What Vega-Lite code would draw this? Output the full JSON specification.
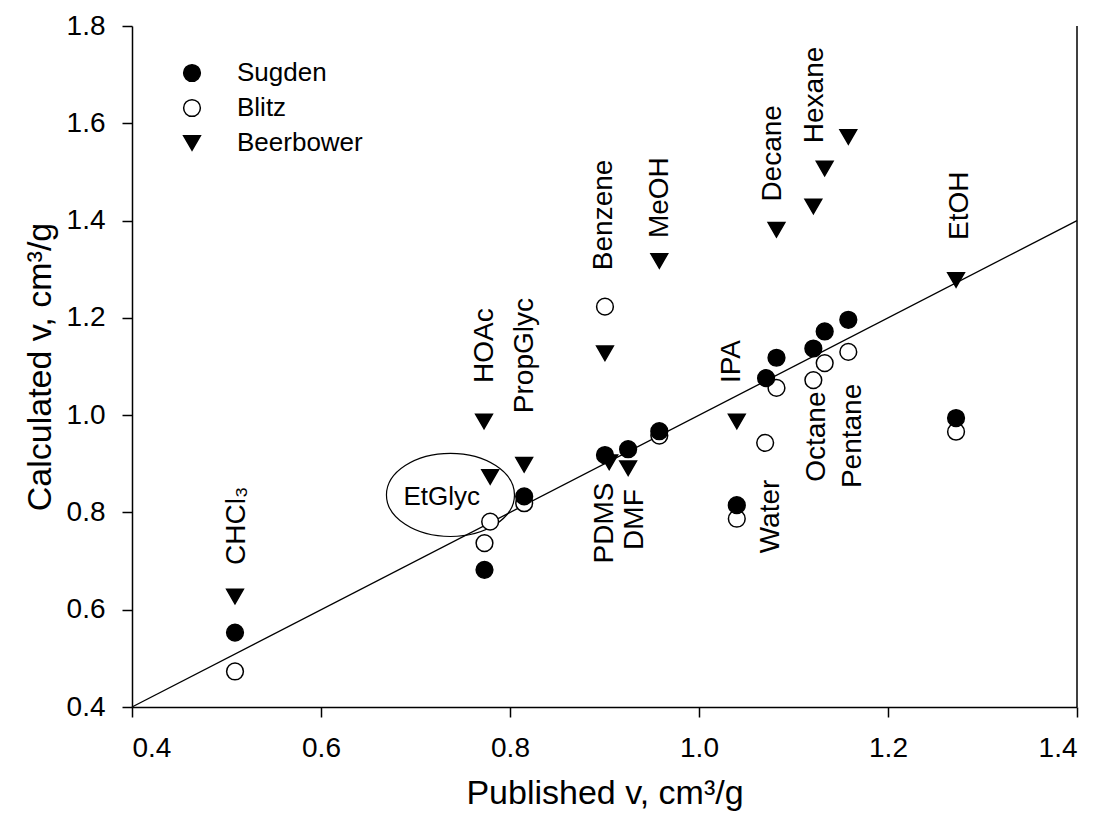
{
  "$schema": "https://vega.github.io/schema/vega-lite/v6.json",
  "width": 945,
  "height": 681,
  "autosize": "none",
  "padding": {"left": 132, "top": 26, "right": 21, "bottom": 114},
  "background": "white",
  "config": {
    "font": "Liberation Sans",
    "view": {"stroke": null},
    "axis": {
      "grid": false,
      "domainColor": "black",
      "domainWidth": 1.5,
      "tickColor": "black",
      "tickWidth": 1.5,
      "tickSize": 10,
      "labelFontSize": 28,
      "labelColor": "black",
      "labelPadding": 17,
      "titleFontSize": 34,
      "titleFontWeight": "normal",
      "titleColor": "black"
    },
    "legend": {
      "title": null,
      "orient": "none",
      "legendX": 47,
      "legendY": 34,
      "labelFontSize": 26,
      "labelColor": "black",
      "symbolSize": 280,
      "symbolStrokeWidth": 1.5,
      "labelOffset": 32,
      "rowPadding": 9,
      "padding": 0
    }
  },
  "datasets": {
    "points": [
      {"published": 0.509, "calculated": 0.473, "method": "Blitz"},
      {"published": 0.773, "calculated": 0.737, "method": "Blitz"},
      {"published": 0.779, "calculated": 0.781, "method": "Blitz"},
      {"published": 0.815, "calculated": 0.819, "method": "Blitz"},
      {"published": 0.9005, "calculated": 1.223, "method": "Blitz"},
      {"published": 0.958, "calculated": 0.958, "method": "Blitz"},
      {"published": 1.04, "calculated": 0.787, "method": "Blitz"},
      {"published": 1.07, "calculated": 0.943, "method": "Blitz"},
      {"published": 1.082, "calculated": 1.056, "method": "Blitz"},
      {"published": 1.121, "calculated": 1.072, "method": "Blitz"},
      {"published": 1.133, "calculated": 1.107, "method": "Blitz"},
      {"published": 1.158, "calculated": 1.13, "method": "Blitz"},
      {"published": 1.272, "calculated": 0.966, "method": "Blitz"},
      {"published": 0.509, "calculated": 0.627, "method": "Beerbower"},
      {"published": 0.7725, "calculated": 0.987, "method": "Beerbower"},
      {"published": 0.779, "calculated": 0.873, "method": "Beerbower"},
      {"published": 0.815, "calculated": 0.898, "method": "Beerbower"},
      {"published": 0.9005, "calculated": 1.127, "method": "Beerbower"},
      {"published": 0.905, "calculated": 0.903, "method": "Beerbower"},
      {"published": 0.925, "calculated": 0.891, "method": "Beerbower"},
      {"published": 0.958, "calculated": 1.317, "method": "Beerbower"},
      {"published": 1.04, "calculated": 0.987, "method": "Beerbower"},
      {"published": 1.082, "calculated": 1.381, "method": "Beerbower"},
      {"published": 1.121, "calculated": 1.429, "method": "Beerbower"},
      {"published": 1.133, "calculated": 1.507, "method": "Beerbower"},
      {"published": 1.158, "calculated": 1.572, "method": "Beerbower"},
      {"published": 1.272, "calculated": 1.278, "method": "Beerbower"},
      {"published": 0.509, "calculated": 0.553, "method": "Sugden"},
      {"published": 0.773, "calculated": 0.682, "method": "Sugden"},
      {"published": 0.815, "calculated": 0.833, "method": "Sugden"},
      {"published": 0.9005, "calculated": 0.918, "method": "Sugden"},
      {"published": 0.925, "calculated": 0.93, "method": "Sugden"},
      {"published": 0.958, "calculated": 0.967, "method": "Sugden"},
      {"published": 1.04, "calculated": 0.815, "method": "Sugden"},
      {"published": 1.071, "calculated": 1.076, "method": "Sugden"},
      {"published": 1.082, "calculated": 1.118, "method": "Sugden"},
      {"published": 1.121, "calculated": 1.137, "method": "Sugden"},
      {"published": 1.133, "calculated": 1.172, "method": "Sugden"},
      {"published": 1.158, "calculated": 1.196, "method": "Sugden"},
      {"published": 1.272, "calculated": 0.994, "method": "Sugden"}
    ],
    "labels": [
      {"label": "CHCl₃", "x": 0.511, "y": 0.692},
      {"label": "HOAc", "x": 0.7735, "y": 1.066},
      {"label": "PropGlyc", "x": 0.816, "y": 1.004},
      {"label": "Benzene", "x": 0.899, "y": 1.298},
      {"label": "MeOH", "x": 0.959, "y": 1.364},
      {"label": "PDMS", "x": 0.9005, "y": 0.695},
      {"label": "DMF", "x": 0.932, "y": 0.723},
      {"label": "IPA", "x": 1.035, "y": 1.066},
      {"label": "Water", "x": 1.076, "y": 0.716},
      {"label": "Octane", "x": 1.1245, "y": 0.863},
      {"label": "Pentane", "x": 1.163, "y": 0.85},
      {"label": "Decane", "x": 1.0787, "y": 1.439},
      {"label": "Hexane", "x": 1.1228, "y": 1.559},
      {"label": "EtOH", "x": 1.276, "y": 1.36}
    ],
    "hlabels": [
      {"label": "EtGlyc", "x": 0.7277, "y": 0.832}
    ],
    "ellipse": [
      {"x": 0.737, "y": 0.836}
    ],
    "fit": [
      {"x": 0.4, "y": 0.4},
      {"x": 1.4, "y": 1.4}
    ],
    "border": [
      {"x": 1.4}
    ]
  },
  "layer": [
    {
      "data": {"name": "fit"},
      "mark": {"type": "line", "color": "black", "strokeWidth": 1.3},
      "encoding": {
        "x": {"field": "x", "type": "quantitative", "scale": {"domain": [0.4, 1.4], "nice": false, "zero": false},
          "axis": {"values": [0.4, 0.6, 0.8, 1.0, 1.2, 1.4], "format": ".1f", "title": "Published v, cm³/g", "titlePadding": 14}},
        "y": {"field": "y", "type": "quantitative", "scale": {"domain": [0.4, 1.8], "nice": false, "zero": false},
          "axis": {"values": [0.4, 0.6, 0.8, 1.0, 1.2, 1.4, 1.6, 1.8], "format": ".1f", "title": "Calculated v, cm³/g", "titlePadding": 9}}
      }
    },
    {
      "data": {"name": "border"},
      "mark": {"type": "rule", "color": "black", "strokeWidth": 1.5},
      "encoding": {
        "x": {"field": "x", "type": "quantitative"}
      }
    },
    {
      "data": {"name": "ellipse"},
      "mark": {"type": "point", "shape": "M-1,0A1,0.65,0,1,0,1,0A1,0.65,0,1,0,-1,0Z", "size": 16384, "stroke": "black", "strokeWidth": 1.2, "fill": null, "filled": false, "opacity": 1},
      "encoding": {
        "x": {"field": "x", "type": "quantitative"},
        "y": {"field": "y", "type": "quantitative"}
      }
    },
    {
      "data": {"name": "points"},
      "mark": {"type": "point", "size": 280, "strokeWidth": 1.5, "opacity": 1, "filled": false},
      "encoding": {
        "x": {"field": "published", "type": "quantitative"},
        "y": {"field": "calculated", "type": "quantitative"},
        "shape": {"field": "method", "type": "nominal",
          "scale": {"domain": ["Sugden", "Blitz", "Beerbower"], "range": ["circle", "circle", "triangle-down"]}},
        "fill": {"field": "method", "type": "nominal",
          "scale": {"domain": ["Sugden", "Blitz", "Beerbower"], "range": ["black", "white", "black"]}},
        "stroke": {"field": "method", "type": "nominal",
          "scale": {"domain": ["Sugden", "Blitz", "Beerbower"], "range": ["black", "black", "black"]}},
        "order": {"field": "method", "type": "nominal"}
      }
    },
    {
      "data": {"name": "labels"},
      "mark": {"type": "text", "angle": 270, "align": "left", "baseline": "middle", "fontSize": 28, "color": "black"},
      "encoding": {
        "x": {"field": "x", "type": "quantitative"},
        "y": {"field": "y", "type": "quantitative"},
        "text": {"field": "label"}
      }
    },
    {
      "data": {"name": "hlabels"},
      "mark": {"type": "text", "align": "center", "baseline": "middle", "fontSize": 26, "color": "black"},
      "encoding": {
        "x": {"field": "x", "type": "quantitative"},
        "y": {"field": "y", "type": "quantitative"},
        "text": {"field": "label"}
      }
    }
  ]
}
